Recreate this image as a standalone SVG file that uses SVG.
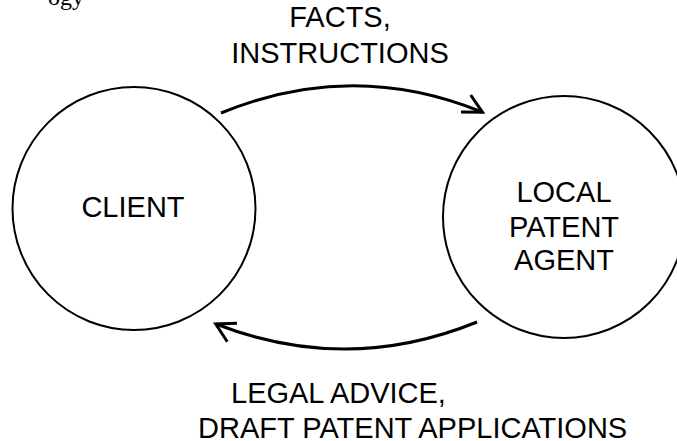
<svg xmlns="http://www.w3.org/2000/svg" width="677" height="441" viewBox="0 0 677 441">
  <style>
    .node { fill: #ffffff; stroke: #000000; stroke-width: 2; }
    .label { font-family: "Liberation Sans", Arial, sans-serif; font-size: 29px; fill: #000000; }
    .mid { text-anchor: middle; }
    .conn { fill: none; stroke: #000000; stroke-width: 3; stroke-linecap: butt; stroke-linejoin: miter; }
    .head { fill: none; stroke: #000000; stroke-width: 3; stroke-linecap: butt; }
  </style>
  <rect width="677" height="441" fill="#ffffff"/>
  <text x="48" y="5" font-family="'Liberation Serif', 'Times New Roman', serif" font-size="24" fill="#000000">ogy</text>

  <g id="connectors">
    <g id="edge-facts">
      <path class="conn" d="M 221 113 Q 352 59 482 112"/>
      <path class="head" d="M 461 112 L 482.5 112.3 L 470.7 95"/>
    </g>
    <g id="edge-advice">
      <path class="conn" d="M 477 322 Q 347 375 216 324"/>
      <path class="head" d="M 237 323.3 L 215.7 324 L 227.3 341.7"/>
    </g>
  </g>

  <g id="node-client">
    <circle class="node" cx="134" cy="208.5" r="121.5"/>
    <text class="label mid" x="133" y="217">CLIENT</text>
  </g>

  <g id="node-agent">
    <circle class="node" cx="564" cy="217" r="121"/>
    <text class="label mid" x="564" y="201.5">LOCAL</text>
    <text class="label mid" x="564" y="236.5">PATENT</text>
    <text class="label mid" x="564" y="270">AGENT</text>
  </g>

  <g id="label-facts">
    <text class="label mid" x="340" y="27">FACTS,</text>
    <text class="label mid" x="340" y="63">INSTRUCTIONS</text>
  </g>

  <g id="label-advice">
    <text class="label" x="231" y="403">LEGAL ADVICE,</text>
    <text class="label" x="198" y="438">DRAFT PATENT APPLICATIONS</text>
  </g>
</svg>
